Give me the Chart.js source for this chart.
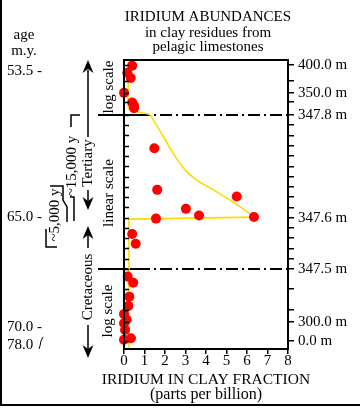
<!DOCTYPE html>
<html><head><meta charset="utf-8">
<script src="https://cdn.jsdelivr.net/npm/chart.js@4.4.1/dist/chart.umd.min.js"></script>
<style>html,body{margin:0;padding:0;background:#fff}canvas{display:block}</style>
</head><body>
<canvas id="c" width="360" height="408"></canvas>
<script>
// ---------- data (x = iridium ppb, y = plotted stratigraphic level on the drawn column) ----------
const xTickValues = [0, 1, 2, 3, 4, 5, 6, 7, 8];

const iridiumTop = [0.40, 0.16, 0.33, 0.00, 0.40, 0.49, 0.49];
const levelTop   = [347.896, 347.882, 347.872, 347.843, 347.824, 347.818, 347.813];

const iridiumLinear = [1.48, 1.62, 5.50, 3.02, 3.66, 1.56, 6.34, 0.40, 0.57];
const levelLinear   = [347.735, 347.654, 347.641, 347.617, 347.604, 347.598, 347.601, 347.568, 347.549];

const iridiumBottom = [0.18, 0.45, 0.26, 0.21, 0.00, 0.13, 0.00, 0.05, 0.00, 0.34];
const levelBottom   = [347.485, 347.473, 347.446, 347.428, 347.412, 347.401, 347.394, 347.381, 347.362, 347.365];

const curveIridium = [0.22, 0.22, 0.44, 0.78, 1.27, 1.43, 1.92, 2.40, 2.98, 3.55, 4.36, 5.17, 5.99, 6.34];
const curveLevel   = [347.907, 347.8136, 347.809, 347.805, 347.800, 347.790, 347.758, 347.725, 347.693, 347.673, 347.654, 347.634, 347.612, 347.601];

const stepIridium = [6.34, 0.24, 0.24];
const stepLevel   = [347.601, 347.597, 347.344];

const yTickLevels = [347.360, 347.397, 347.420, 347.461, 347.50, 347.52, 347.54, 347.56, 347.58, 347.60,
                     347.62, 347.64, 347.66, 347.68, 347.70, 347.72, 347.74, 347.76, 347.78, 347.80,
                     347.825, 347.843, 347.866, 347.897];
const yTickLabels = ['0.0 m', '300.0 m', '', '', '347.5 m', '', '', '', '', '347.6 m',
                     '', '', '', '', '', '', '', '', '', '347.8 m',
                     '', '350.0 m', '', '400.0 m'];

const boundaryLevels = [347.8, 347.5];
const ageLabels = ['53.5 -', '65.0 -', '70.0 -', '78.0'];
const ageLevels = [347.886, 347.601, 347.387, 347.352];

const titleLines = ['IRIDIUM ABUNDANCES', 'in clay residues from', 'pelagic limestones'];
const xTitleLines = ['IRIDIUM IN CLAY FRACTION', '(parts per billion)'];

// ---------- drawing ----------
const F = '"Liberation Serif", "Times New Roman", serif';
const pts = (xs, ys) => xs.map((x, i) => ({ x: x, y: ys[i] }));
const YEL = '#ffdc00', RED = '#ff0000';

function arrowHead(ctx, x, tipY, dir) { // dir -1 = pointing up, +1 = pointing down
  ctx.beginPath();
  ctx.moveTo(x, tipY);
  ctx.lineTo(x - 5.5, tipY - dir * 13);
  ctx.lineTo(x, tipY - dir * 9);
  ctx.lineTo(x + 5.5, tipY - dir * 13);
  ctx.closePath();
  ctx.fill();
}
function vText(ctx, txt, x, y, size) {
  ctx.save();
  ctx.translate(x, y);
  ctx.rotate(-Math.PI / 2);
  ctx.font = size + 'px ' + F;
  ctx.textAlign = 'center';
  ctx.textBaseline = 'middle';
  ctx.fillText(txt, 0, 0);
  ctx.restore();
}
function line(ctx, p) {
  ctx.beginPath();
  ctx.moveTo(p[0], p[1]);
  for (let i = 2; i < p.length; i += 2) ctx.lineTo(p[i], p[i + 1]);
  ctx.stroke();
}

const decor = {
  id: 'decor',
  beforeDatasetsDraw(chart) {
    const { ctx, chartArea: a, scales: { y } } = chart;
    ctx.save();
    ctx.strokeStyle = '#000';
    ctx.lineWidth = 2;
    boundaryLevels.forEach(v => {
      const py = Math.round(y.getPixelForValue(v));
      ctx.setLineDash([]);
      line(ctx, [98, py, a.left + 14, py]);
      ctx.setLineDash([12, 4, 2, 4]);
      line(ctx, [a.left + 14, py, a.right, py]);
    });
    ctx.restore();
  },
  afterDraw(chart) {
    const { ctx, chartArea: a, scales: { y } } = chart;
    ctx.save();
    ctx.fillStyle = '#000';
    ctx.strokeStyle = '#000';
    // plot frame
    ctx.lineWidth = 2;
    ctx.strokeRect(a.left, a.top, a.right - a.left, a.bottom - a.top);
    // inner ticks on the left side
    ctx.lineWidth = 1.5;
    yTickLevels.forEach(v => {
      const py = Math.round(y.getPixelForValue(v)) + 0.5;
      line(ctx, [a.left, py, a.left + 5, py]);
    });
    // titles
    ctx.textAlign = 'center';
    ctx.textBaseline = 'alphabetic';
    ctx.font = '15px ' + F;
    ctx.fillText(titleLines[0], 208, 21);
    ctx.fillText(titleLines[1], 208, 37);
    ctx.fillText(titleLines[2], 208, 51);
    ctx.fillText('age', 24, 39);
    ctx.fillText('m.y.', 24, 55);
    // x-axis title
    ctx.textBaseline = 'middle';
    ctx.font = '15.5px ' + F;
    ctx.fillText(xTitleLines[0], (a.left + a.right) / 2, 379.5);
    ctx.font = '16px ' + F;
    ctx.fillText(xTitleLines[1], (a.left + a.right) / 2, 395);
    // age labels
    ctx.font = '15px ' + F;
    ctx.textAlign = 'left';
    ageLabels.forEach((t, i) => ctx.fillText(t, 7, y.getPixelForValue(ageLevels[i])));
    ctx.lineWidth = 1;
    const p78 = y.getPixelForValue(ageLevels[3]);
    line(ctx, [39, p78 + 4, 40, p78 + 1, 41, p78 - 4, 43, p78 - 8]);
    // scale notes
    vText(ctx, 'log scale', 109, 87, 15);
    vText(ctx, 'linear scale', 109, 193, 15);
    vText(ctx, 'log scale', 108, 311, 15);
    // Tertiary arrow
    ctx.lineWidth = 1.5;
    line(ctx, [88, 70, 88, 137]);
    arrowHead(ctx, 88, 60, -1);
    vText(ctx, 'Tertiary', 88, 163, 15);
    line(ctx, [88, 190, 88, 202]);
    arrowHead(ctx, 88, 210, 1);
    // Cretaceous arrow
    arrowHead(ctx, 88, 226, -1);
    line(ctx, [88, 234, 88, 248]);
    vText(ctx, 'Cretaceous', 88, 287, 15);
    line(ctx, [88, 325, 88, 350]);
    arrowHead(ctx, 88, 358, 1);
    // time brackets
    vText(ctx, '~15,000 y', 72, 166, 15);
    vText(ctx, '~5,000 y', 55, 215, 15);
    ctx.lineWidth = 1.5;
    line(ctx, [80, 115, 71, 115, 71, 127]);
    line(ctx, [70, 197, 74, 197, 74, 221]);
    line(ctx, [50, 186, 63, 186, 63, 200, 67, 207, 67, 222]);
    line(ctx, [46, 229, 46, 247, 57, 247]);
    // outer border pieces
    ctx.lineWidth = 2;
    line(ctx, [1, 0, 1, 405, 360, 405]);
    ctx.restore();
  }
};

new Chart(document.getElementById('c').getContext('2d'), {
  type: 'scatter',
  data: {
    datasets: [
      { type: 'line', data: pts(curveIridium, curveLevel), borderColor: YEL, borderWidth: 1.6,
        pointRadius: 0, tension: 0.3, fill: false, order: 2 },
      { type: 'line', data: pts(stepIridium, stepLevel), borderColor: YEL, borderWidth: 1.6,
        pointRadius: 0, tension: 0, fill: false, order: 2 },
      { data: pts(iridiumTop, levelTop), backgroundColor: RED, borderWidth: 0, pointRadius: 5, clip: false, order: 1 },
      { data: pts(iridiumLinear, levelLinear), backgroundColor: RED, borderWidth: 0, pointRadius: 5, clip: false, order: 1 },
      { data: pts(iridiumBottom, levelBottom), backgroundColor: RED, borderWidth: 0, pointRadius: 5, clip: false, order: 1 }
    ]
  },
  options: {
    responsive: false,
    animation: false,
    devicePixelRatio: 1,
    events: [],
    layout: { padding: { left: 124, top: 60, right: 2, bottom: 3 } },
    plugins: { legend: { display: false }, tooltip: { enabled: false }, title: { display: false } },
    scales: {
      x: {
        type: 'linear', position: 'bottom', min: 0, max: 8,
        afterBuildTicks: s => { s.ticks = xTickValues.map(v => ({ value: v })); },
        ticks: { font: { family: F, size: 15, lineHeight: 1 }, color: '#000', padding: 0, maxRotation: 0, autoSkip: false },
        grid: { drawOnChartArea: false, drawTicks: true, tickLength: 5, color: '#000', lineWidth: 1.5 },
        border: { display: false },
        title: { display: false },
        afterFit: s => { s.height = 56; }
      },
      y: {
        type: 'linear', position: 'right', min: 347.344, max: 347.907,
        afterBuildTicks: s => { s.ticks = yTickLevels.map(v => ({ value: v })); },
        ticks: { callback: (v, i) => yTickLabels[i], font: { family: F, size: 15, lineHeight: 1 },
                 color: '#000', padding: 4, autoSkip: false },
        grid: { drawOnChartArea: false, drawTicks: true, tickLength: 6, color: '#000', lineWidth: 1.5 },
        border: { display: false },
        afterFit: s => { s.width = 70; }
      }
    }
  },
  plugins: [decor]
});
</script>
</body></html>
